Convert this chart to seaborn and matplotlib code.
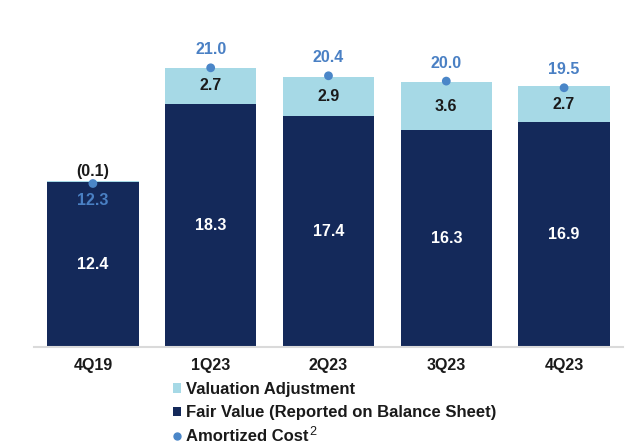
import numpy as np
import pandas as pd
import matplotlib
matplotlib.use('Agg')
import matplotlib.pyplot as plt
from matplotlib.patches import Patch
from matplotlib.lines import Line2D
import seaborn as sns

# data
quarters = ['4Q19', '1Q23', '2Q23', '3Q23', '4Q23']
fair_value = [12.4, 18.3, 17.4, 16.3, 16.9]
valuation_adj = [-0.1, 2.7, 2.9, 3.6, 2.7]
amortized_cost = [12.3, 21.0, 20.4, 20.0, 19.5]

NAVY = '#14295A'
LIGHT = '#A6D9E6'
DOT = '#4A86C8'
LBL_BLUE = '#4A80C4'

sns.set_theme(style='white')
plt.rcParams['font.family'] = ['Liberation Sans', 'DejaVu Sans']

df = pd.DataFrame({'quarter': quarters, 'fair': fair_value,
                   'adj': valuation_adj, 'amort': amortized_cost})
df['top'] = df['fair'] + df['adj'].abs()

fig = plt.figure(figsize=(6.4, 4.48), dpi=100)
ax = fig.add_axes([0.0531, 0.2254, 0.9203, 0.7746])

sns.barplot(data=df, x='quarter', y='top', color=LIGHT, width=0.775,
            saturation=1, ax=ax, linewidth=0)
sns.barplot(data=df, x='quarter', y='fair', color=NAVY, width=0.775,
            saturation=1, ax=ax, linewidth=0)
xs = np.arange(len(quarters))
sns.scatterplot(x=xs, y=df['amort'], color=DOT, s=40, edgecolor='none',
                ax=ax, zorder=5)

for i in xs:
    fv, adj, am, top = df.loc[i, ['fair', 'adj', 'amort', 'top']]
    ax.text(i, fv / 2, f'{fv:.1f}', ha='center', va='center', color='white',
            fontsize=11.5, fontweight='bold')
    if adj < 0:
        ax.annotate(f'({abs(adj):.1f})', (i, am), xytext=(0, 8.5),
                    textcoords='offset points', ha='center', va='center',
                    color='#1a1a1a', fontsize=11.5, fontweight='bold')
        ax.annotate(f'{am:.1f}', (i, am), xytext=(0, -12.5),
                    textcoords='offset points', ha='center', va='center',
                    color=LBL_BLUE, fontsize=11.5, fontweight='bold')
    else:
        ax.text(i, fv + adj / 2, f'{adj:.1f}', ha='center', va='center',
                color='#1a1a1a', fontsize=11.5, fontweight='bold')
        ax.annotate(f'{am:.1f}', (i, am), xytext=(0, 13),
                    textcoords='offset points', ha='center', va='center',
                    color=LBL_BLUE, fontsize=11.5, fontweight='bold')

ax.set_xlim(-0.5, 4.5)
ax.set_ylim(0, 26.1)
ax.set_xlabel('')
ax.set_ylabel('')
ax.set_yticks([])
ax.tick_params(axis='x', length=0, pad=8, labelsize=11.5, labelcolor='#1a1a1a')
for t in ax.get_xticklabels():
    t.set_fontweight('bold')
sns.despine(ax=ax, left=True)
ax.spines['bottom'].set_color('#DADADA')
ax.spines['bottom'].set_linewidth(1.5)

handles = [Patch(facecolor=LIGHT, edgecolor='none'),
           Patch(facecolor=NAVY, edgecolor='none'),
           Line2D([], [], marker='o', color=DOT, linestyle='none', markersize=5)]
labels = ['Valuation Adjustment', 'Fair Value (Reported on Balance Sheet)',
          'Amortized Cost']
leg = fig.legend(handles, labels, loc='upper left', bbox_to_anchor=(0.27, 0.148),
                 frameon=False, handlelength=0.5, handleheight=0.5,
                 handletextpad=0.3, labelspacing=0.52, borderpad=0,
                 borderaxespad=0, prop={'size': 12, 'weight': 'bold'})
for t in leg.get_texts():
    t.set_color('#1a1a1a')

# superscript footnote marker after the last legend entry
fig.canvas.draw()
bb = leg.get_texts()[2].get_window_extent()
inv = fig.transFigure.inverted()
x1, y1 = inv.transform((bb.x1 + 1, bb.y1 + 3))
fig.text(x1, y1, '2', ha='left', va='top', fontsize=9, color='#1a1a1a')

fig.savefig('out.png', dpi=100)
